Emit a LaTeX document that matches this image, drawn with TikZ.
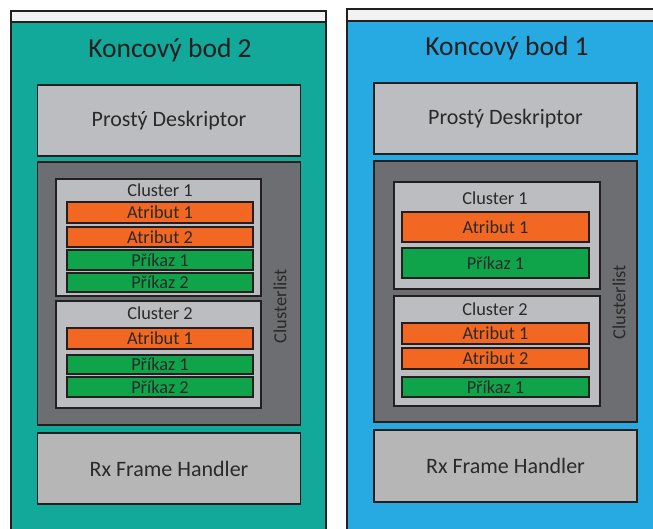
\documentclass[tikz,border=0pt]{standalone}
\usepackage{fontspec}
\setmainfont{Carlito}
\definecolor{teal1}{HTML}{12A89A}
\definecolor{blue1}{HTML}{27A9E1}
\definecolor{strip}{HTML}{F1F2F2}
\definecolor{edge}{HTML}{231F20}
\definecolor{lgray}{HTML}{BCBDC0}
\definecolor{rxgray}{HTML}{B5B6B5}
\definecolor{dgray}{HTML}{6D6E71}
\definecolor{orng}{HTML}{F26722}
\definecolor{grn}{HTML}{10A44A}
\definecolor{txt}{HTML}{2B2A2A}
\tikzset{
  box/.style={draw=edge, line width=1.6pt, inner sep=0pt, text=txt, font=\fontsize{22}{24}\selectfont},
  bigbox/.style={box, minimum width=263pt},
  listbox/.style={box, fill=dgray, minimum width=263pt},
  clbox/.style={box, fill=lgray, minimum width=205pt},
  attr/.style={box, fill=orng, minimum width=186pt, font=\fontsize{18.3}{20}\selectfont},
  cmd/.style={box, fill=grn, minimum width=186pt, font=\fontsize{18.3}{20}\selectfont},
  lab/.style={inner sep=0pt, text=txt, font=\fontsize{18.3}{20}\selectfont},
  title/.style={inner sep=0pt, text=edge, font=\fontsize{27.5}{30}\selectfont},
}
\begin{document}
\begin{tikzpicture}[x=1pt,y=-1pt]
\useasboundingbox (0,0) rectangle (653,528);
% left endpoint panel
\fill[strip] (11,11) rectangle (326,22);
\fill[teal1] (11,22) rectangle (326,545);
\draw[edge, line width=2pt] (11,545) -- (11,11) -- (326,11) -- (326,545);
\draw[edge, line width=2pt] (11,22) -- (326,22);
\node[title] (t2) at (170,50) {Koncový bod 2};
\node[bigbox, fill=lgray, minimum height=71pt] (pd2) at (169,120.5) {Prostý Deskriptor};
\node[listbox, minimum height=263pt] (cl2) at (169,293.5) {};
\node[clbox, minimum height=117pt] (c21) at (158.5,237.5) {};
\node[lab] (c21l) at (160,190) {Cluster 1};
\node[attr, minimum height=21pt] (c21a1) at (160,212.5) {Atribut 1};
\node[attr, minimum height=20pt] (c21a2) at (160,237) {Atribut 2};
\node[cmd, minimum height=20pt] (c21p1) at (160,260) {Příkaz 1};
\node[cmd, minimum height=19pt] (c21p2) at (160,282.5) {Příkaz 2};
\node[clbox, minimum height=107pt] (c22) at (158.5,354.5) {};
\node[lab] (c22l) at (160,313) {Cluster 2};
\node[attr, minimum height=21pt] (c22a1) at (160,338.5) {Atribut 1};
\node[cmd, minimum height=19pt] (c22p1) at (160,364.5) {Příkaz 1};
\node[cmd, minimum height=20pt] (c22p2) at (160,387) {Příkaz 2};
\node[lab, rotate=90, font=\fontsize{18.5}{20}\selectfont] (cll2) at (280,306) {Clusterlist};
\node[bigbox, fill=rxgray, minimum height=71pt] (rx2) at (169,468.5) {Rx Frame Handler};
% right endpoint panel
\fill[strip] (347,9) rectangle (665,21);
\fill[blue1] (347,21) rectangle (665,545);
\draw[edge, line width=2pt] (347,545) -- (347,9) -- (665,9);
\draw[edge, line width=2pt] (347,21) -- (665,21);
\node[title] (t1) at (507,48) {Koncový bod 1};
\node[bigbox, fill=lgray, minimum height=71pt] (pd1) at (505.5,118.5) {Prostý Deskriptor};
\node[listbox, minimum height=261pt] (cl1) at (505.5,291.5) {};
\node[clbox, minimum height=107pt, minimum width=206pt] (c11) at (497,235.5) {};
\node[lab] (c11l) at (495,198) {Cluster 1};
\node[attr, minimum height=30pt, minimum width=187pt] (c11a1) at (495.5,227) {Atribut 1};
\node[cmd, minimum height=30pt, minimum width=187pt] (c11p1) at (495.5,263) {Příkaz 1};
\node[clbox, minimum height=110pt, minimum width=206pt] (c12) at (497,351) {};
\node[lab] (c12l) at (495,309) {Cluster 2};
\node[attr, minimum height=21pt, minimum width=187pt] (c12a1) at (495.5,333.5) {Atribut 1};
\node[attr, minimum height=21pt, minimum width=187pt] (c12a2) at (495.5,358.5) {Atribut 2};
\node[cmd, minimum height=20pt, minimum width=187pt] (c12p1) at (495.5,387) {Příkaz 1};
\node[lab, rotate=90, font=\fontsize{18.5}{20}\selectfont] (cll1) at (619,302) {Clusterlist};
\node[bigbox, fill=rxgray, minimum height=72pt] (rx1) at (505.5,466) {Rx Frame Handler};
\end{tikzpicture}
\end{document}
